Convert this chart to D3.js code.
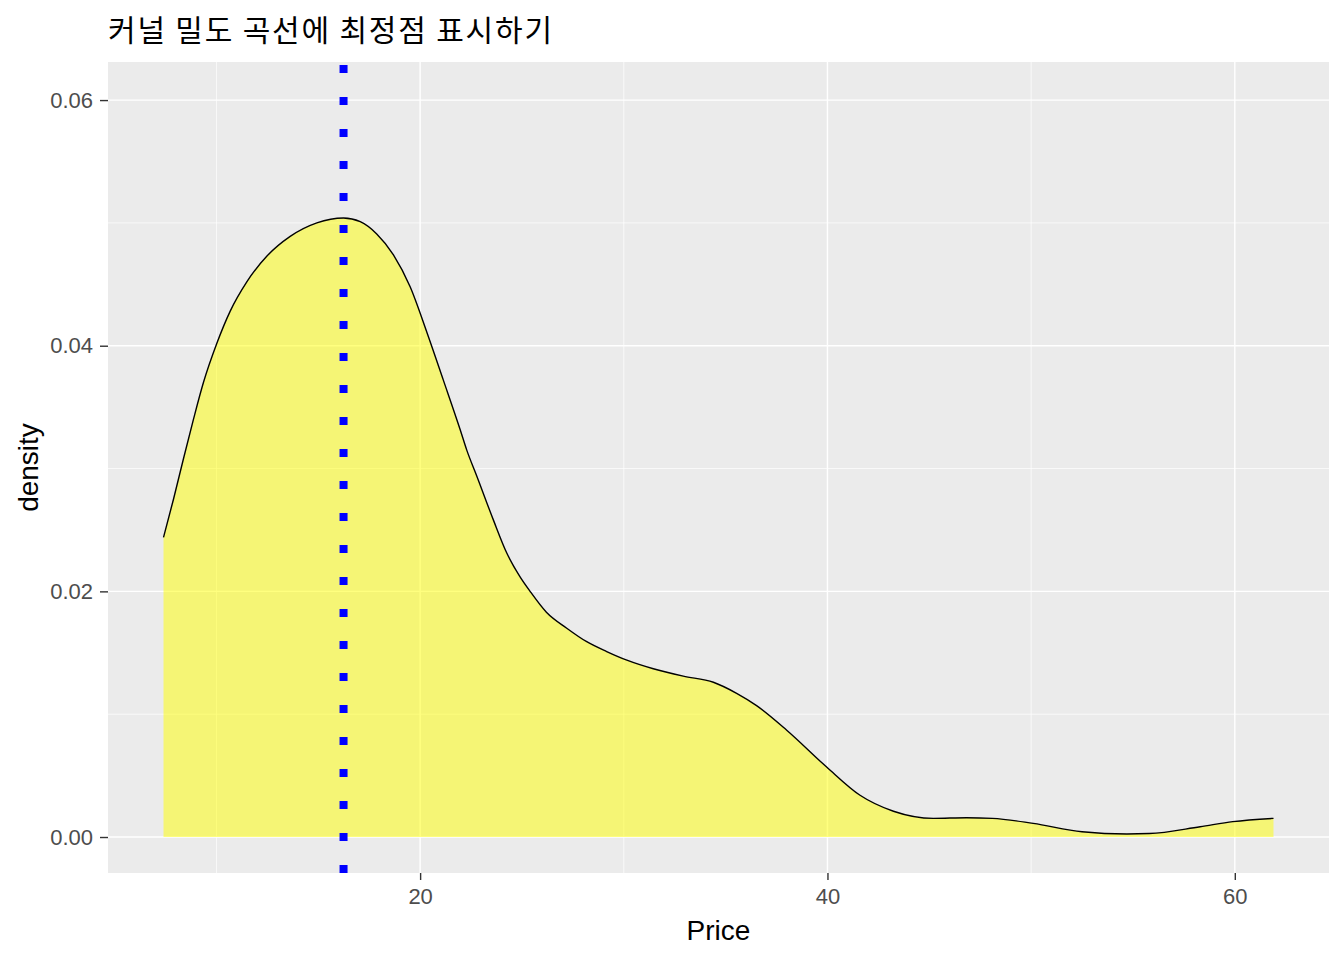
<!DOCTYPE html>
<html>
<head>
<meta charset="utf-8">
<script src="https://cdn.jsdelivr.net/npm/d3@7"></script>
<style>
  html, body { margin: 0; padding: 0; background: #ffffff; }
  svg { display: block; }
</style>
</head>
<body>
<div id="chart"></div>
<script>
// ---- data ----
const titleText = "커널 밀도 곡선에 최정점 표시하기";
const xLabel = "Price";
const yLabel = "density";
const priceGrid = [7.4, 7.89, 8.38, 8.87, 9.36, 10.02, 10.67, 11.49, 12.48, 13.62, 14.93, 16.24, 17.06, 17.87, 18.69, 19.51, 20.33, 21.14, 21.96, 22.29, 22.78, 23.6, 24.26, 24.9, 25.4, 26.2, 27.2, 28.18, 29.16, 30.15, 31.45, 32.92, 34.4, 35.54, 36.52, 38.0, 39.96, 41.6, 43.24, 45.2, 46.83, 48.1, 50.1, 52.5, 54.7, 55.8, 58.3, 59.9, 61.9];
const densityValues = [0.0244, 0.0275, 0.0308, 0.0340, 0.0370, 0.0402, 0.0428, 0.0452, 0.0473, 0.0489, 0.0500, 0.0504, 0.0501, 0.0491, 0.0474, 0.0448, 0.0411, 0.0372, 0.0332, 0.0315, 0.0294, 0.0258, 0.0231, 0.0212, 0.0200, 0.0183, 0.0170, 0.0159, 0.0151, 0.0144, 0.0137, 0.0131, 0.0126, 0.0117, 0.0107, 0.0087, 0.0057, 0.0034, 0.0021, 0.00152, 0.00157, 0.00152, 0.00111, 0.00043, 0.00025, 0.00028, 0.00084, 0.00125, 0.00152];
const xTicks = [20, 40, 60];
const xMinor = [10, 30, 50];
const yTicks = [0, 0.02, 0.04, 0.06];
const yMinor = [0.01, 0.03, 0.05];
const yTickLabels = ["0.00", "0.02", "0.04", "0.06"];

// ---- layout ----
const W = 1344, H = 960;
const P = { left: 108, right: 1329, top: 62, bottom: 873 };
const sans = "'Liberation Sans', Arial, sans-serif";

const svg = d3.select("#chart").append("svg").attr("width", W).attr("height", H);

const x = d3.scaleLinear().domain([4.675, 64.625]).range([P.left, P.right]);
const y = d3.scaleLinear().domain([-0.00293, 0.0631]).range([P.bottom, P.top]);

// panel background
svg.append("rect").attr("x", P.left).attr("y", P.top)
  .attr("width", P.right - P.left).attr("height", P.bottom - P.top)
  .attr("fill", "#EBEBEB");

const grid = svg.append("g");
grid.selectAll(".xm").data(xMinor).enter().append("line")
  .attr("x1", d => x(d)).attr("x2", d => x(d)).attr("y1", P.top).attr("y2", P.bottom)
  .attr("stroke", "#fff").attr("stroke-width", 0.7);
grid.selectAll(".ym").data(yMinor).enter().append("line")
  .attr("y1", d => y(d)).attr("y2", d => y(d)).attr("x1", P.left).attr("x2", P.right)
  .attr("stroke", "#fff").attr("stroke-width", 0.7);
grid.selectAll(".xM").data(xTicks).enter().append("line")
  .attr("x1", d => x(d)).attr("x2", d => x(d)).attr("y1", P.top).attr("y2", P.bottom)
  .attr("stroke", "#fff").attr("stroke-width", 1.4);
grid.selectAll(".yM").data(yTicks).enter().append("line")
  .attr("y1", d => y(d)).attr("y2", d => y(d)).attr("x1", P.left).attr("x2", P.right)
  .attr("stroke", "#fff").attr("stroke-width", 1.4);

// density
const pts = priceGrid.map((p, i) => ({ p, d: densityValues[i] }));
const area = d3.area().x(d => x(d.p)).y0(y(0)).y1(d => y(d.d)).curve(d3.curveMonotoneX);
const line = d3.line().x(d => x(d.p)).y(d => y(d.d)).curve(d3.curveMonotoneX);

svg.append("clipPath").attr("id", "panelclip").append("rect")
  .attr("x", P.left).attr("y", P.top).attr("width", P.right - P.left).attr("height", P.bottom - P.top);

const plot = svg.append("g").attr("clip-path", "url(#panelclip)");
plot.append("path").datum(pts).attr("d", area)
  .attr("fill", "yellow").attr("fill-opacity", 0.5);
plot.append("path").datum(pts).attr("d", line)
  .attr("fill", "none").attr("stroke", "#000").attr("stroke-width", 1.4);

// peak line
const peak = pts.reduce((a, b) => (b.d > a.d ? b : a));
plot.append("line")
  .attr("x1", x(peak.p)).attr("x2", x(peak.p))
  .attr("y1", P.bottom).attr("y2", P.top)
  .attr("stroke", "blue").attr("stroke-width", 8)
  .attr("stroke-dasharray", "8 24");

// axes
const xAxis = svg.append("g").attr("transform", `translate(0,${P.bottom})`)
  .call(d3.axisBottom(x).tickValues(xTicks).tickSize(7).tickPadding(8).tickFormat(d3.format("d")));
const yAxis = svg.append("g").attr("transform", `translate(${P.left},0)`)
  .call(d3.axisLeft(y).tickValues(yTicks).tickSize(8).tickPadding(7).tickFormat((d, i) => yTickLabels[i]));
[xAxis, yAxis].forEach(g => {
  g.select(".domain").remove();
  g.selectAll(".tick line").attr("stroke", "#333333").attr("stroke-width", 1.4);
  g.selectAll(".tick text").attr("fill", "#4D4D4D")
    .style("font-family", sans).style("font-size", "22px");
});

// axis titles
svg.append("text").attr("x", (P.left + P.right) / 2).attr("y", 940)
  .attr("text-anchor", "middle").attr("fill", "#000")
  .style("font-family", sans).style("font-size", "28px")
  .text(xLabel);
svg.append("text").attr("transform", `translate(38,${(P.top + P.bottom) / 2}) rotate(-90)`)
  .attr("text-anchor", "middle").attr("fill", "#000")
  .style("font-family", sans).style("font-size", "28px")
  .text(yLabel);

// title
svg.append("text").attr("x", P.left).attr("y", 41)
  .attr("fill", "#000")
  .attr("textLength", 444).attr("lengthAdjust", "spacing")
  .style("font-family", "'Noto Sans CJK KR', sans-serif").style("font-size", "30px")
  .text(titleText);
</script>
</body>
</html>
